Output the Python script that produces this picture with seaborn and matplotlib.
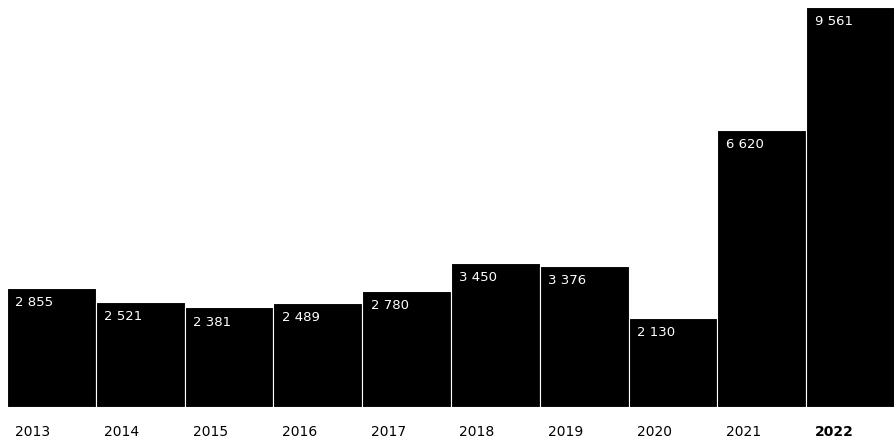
import matplotlib
matplotlib.use("Agg")
import matplotlib.pyplot as plt
import seaborn as sns
import pandas as pd

# data
years = ["2013", "2014", "2015", "2016", "2017", "2018", "2019", "2020", "2021", "2022"]
values = [2855, 2521, 2381, 2489, 2780, 3450, 3376, 2130, 6620, 9561]
labels = ["2 855", "2 521", "2 381", "2 489", "2 780", "3 450", "3 376", "2 130", "6 620", "9 561"]

sns.set_style("white")
plt.rcParams['font.family'] = ['DejaVu Sans']

df = pd.DataFrame({"year": years, "value": values})

fig = plt.figure(figsize=(8.94, 4.44), dpi=100)
ax = fig.add_axes([7 / 894, 37 / 444, 888 / 894, 400 / 444])

sns.barplot(data=df, x="year", y="value", color="black", width=1.0,
            edgecolor="white", linewidth=0.8, saturation=1, ax=ax)

ax.set_ylim(0, max(values))
ax.set_xlim(-0.5, len(years) - 0.5)

# value labels top-left inside bars
for i, (v, lab) in enumerate(zip(values, labels)):
    ax.annotate(lab, (i - 0.5, v), xytext=(6, -6), textcoords="offset points",
                ha="left", va="top", color="white", fontsize=9.5)

# year labels left-aligned under bars
ax.set_xticks([])
ax.set_yticks([])
ax.set_xlabel("")
ax.set_ylabel("")
for i, y in enumerate(years):
    ax.annotate(y, (i - 0.5, 0), xytext=(6, -13), textcoords="offset points",
                ha="left", va="top", color="black", fontsize=10,
                fontweight="bold" if y == "2022" else "normal",
                annotation_clip=False)

sns.despine(ax=ax, left=True, bottom=True, top=True, right=True)

fig.savefig("out.png", dpi=100)
